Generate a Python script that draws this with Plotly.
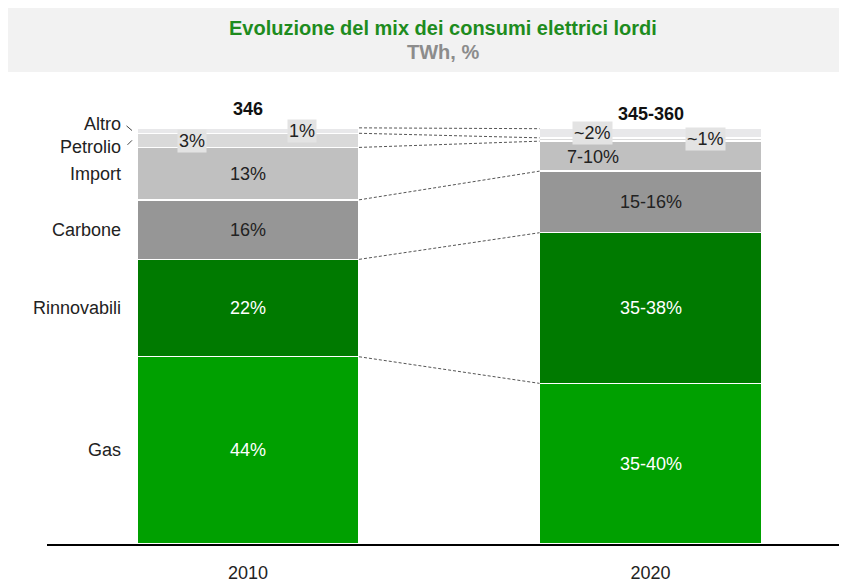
import plotly.graph_objects as go

# data (shares of the stacked bars)
years = ["2010", "2020"]
sources = ["Gas", "Rinnovabili", "Carbone", "Import", "Petrolio", "Altro"]
share_2010 = [45.0, 23.4, 14.3, 12.6, 3.4, 1.3]
share_2020 = [38.6, 36.2, 14.8, 7.2, 0.8, 2.2]
labels_2010 = ["44%", "22%", "16%", "13%", "3%", "1%"]
labels_2020 = ["35-40%", "35-38%", "15-16%", "7-10%", "~2%", "~1%"]
totals = ["346", "345-360"]

colors = ["#00a000", "#007a00", "#969696", "#c0c0c0", "#d9d9d9", "#e8e8ea"]
text_colors = ["white", "white", "#222222", "#222222", "#222222", "#222222"]

FONT = "Liberation Sans, Arial, sans-serif"
W = 0.5516  # bar width in x units
xpos = [0, 1]

fig = go.Figure()

for i, src in enumerate(sources):
    fig.add_trace(go.Bar(
        x=xpos,
        y=[share_2010[i], share_2020[i]],
        width=W,
        name=src,
        marker=dict(color=colors[i], line=dict(color="white", width=1.5)),
        showlegend=False,
        hoverinfo="skip",
    ))

# dashed connectors between segment boundaries
def cum(vals):
    out, s = [0], 0
    for v in vals:
        s += v
        out.append(s)
    return out

c10 = cum(share_2010)
c20 = cum(share_2020)
for k in range(1, len(c10)):
    fig.add_trace(go.Scatter(
        x=[W / 2, 1 - W / 2],
        y=[c10[k], c20[k]],
        mode="lines",
        line=dict(color="#555555", width=1, dash="3px,2px"),
        showlegend=False,
        hoverinfo="skip",
    ))

annotations = []

# segment value labels: (xshift, yshift, boxed)
pos_2010 = [(0, 0, False), (0, 0, False), (0, 0, False), (0, 0, False), (-56, -1, True), (54, 0, True)]
pos_2020 = [(0, 0, False), (0, 0, False), (0, 0, False), (-58, -1, False), (-58, 7, True), (55, -6, True)]

for xi, shares, labels, pos in [(0, share_2010, labels_2010, pos_2010),
                                (1, share_2020, labels_2020, pos_2020)]:
    c = cum(shares)
    for i, lab in enumerate(labels):
        dx, dy, boxed = pos[i]
        annotations.append(dict(
            x=xi, y=(c[i] + c[i + 1]) / 2, xref="x", yref="y",
            text=lab, showarrow=False, xshift=dx, yshift=dy,
            font=dict(family=FONT, size=18, color=text_colors[i]),
            bgcolor="#e3e3e3" if boxed else None,
            borderpad=1,
        ))

# totals above the bars
for xi, tot, shift in [(0, totals[0], 19), (1, totals[1], 15)]:
    annotations.append(dict(
        x=xi, y=sum(share_2010 if xi == 0 else share_2020), xref="x", yref="y",
        text="<b>%s</b>" % tot, showarrow=False, yshift=shift,
        font=dict(family=FONT, size=18, color="#111111"),
    ))

# category labels on the left of the 2010 bar
cat_shift = [0, 0, 0, 0, -7, 7]
for i, src in enumerate(sources):
    annotations.append(dict(
        x=-W / 2, y=(c10[i] + c10[i + 1]) / 2, xref="x", yref="y",
        text=src, showarrow=False, xanchor="right", xshift=-14, yshift=cat_shift[i],
        font=dict(family=FONT, size=18, color="#222222"),
    ))

# small leader ticks for Altro and Petrolio
for i, ax, ay in [(5, -7, -6), (4, -6, 6)]:
    annotations.append(dict(
        x=-W / 2, y=(c10[i] + c10[i + 1]) / 2, xref="x", yref="y",
        text="", showarrow=True, arrowhead=0, arrowwidth=1, arrowcolor="#444444",
        ax=ax, ay=ay, xshift=-5,
    ))

# title band
annotations.append(dict(
    x=0.495, y=1.112, xref="paper", yref="paper", showarrow=False,
    xanchor="center", yanchor="middle",
    text="<b>Evoluzione del mix dei consumi elettrici lordi</b>",
    font=dict(family=FONT, size=20, color="#1e8c1e"),
))
annotations.append(dict(
    x=0.495, y=1.060, xref="paper", yref="paper", showarrow=False,
    xanchor="center", yanchor="middle",
    text="<b>TWh, %</b>",
    font=dict(family=FONT, size=20, color="#8c8c8c"),
))

# page body adds an 8px offset, so the figure is 8px smaller
fig.update_layout(
    barmode="stack",
    width=839, height=575,
    margin=dict(l=39, r=0, t=72, b=39),
    plot_bgcolor="white", paper_bgcolor="white",
    annotations=annotations,
    shapes=[dict(type="rect", xref="paper", yref="paper",
                 x0=-0.04875, x1=1.0, y0=1.017, y1=1.155,
                 fillcolor="#f2f2f2", line=dict(width=0), layer="below")],
    xaxis=dict(
        range=[-0.4994, 1.488], tickvals=xpos, ticktext=years,
        showline=True, linecolor="black", linewidth=2,
        showgrid=False, zeroline=False,
        ticks="outside", ticklen=11, tickcolor="rgba(0,0,0,0)",
        tickfont=dict(family=FONT, size=18, color="#222222"),
    ),
    yaxis=dict(range=[0, 111.5], visible=False),
)

fig.write_html("out.html")
